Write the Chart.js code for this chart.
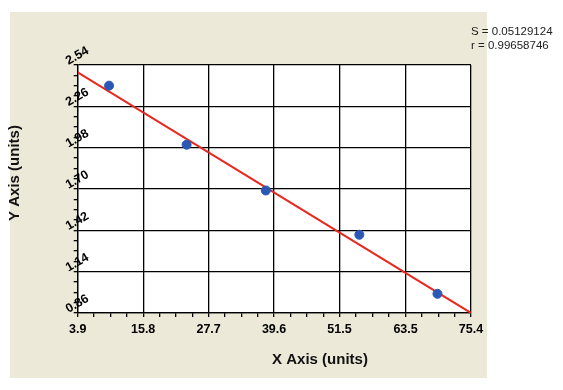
<!DOCTYPE html>
<html>
<head>
<meta charset="utf-8">
<script src="https://cdn.jsdelivr.net/npm/chart.js@4"></script>
<style>
  html,body{margin:0;padding:0;background:#fff;}
  #wrap{width:563px;height:390px;position:relative;}
</style>
</head>
<body>
<div id="wrap"><canvas id="chart" width="563" height="390"></canvas></div>
<script>
// data
const xTicks = [3.9, 15.8, 27.7, 39.6, 51.5, 63.5, 75.4];
const yTicks = [0.86, 1.14, 1.42, 1.70, 1.98, 2.26, 2.54];
const xData = [9.6, 23.7, 38.1, 55.1, 69.3];
const yData = [2.40, 2.00, 1.69, 1.39, 0.99];
const fitX = [3.9, 75.4];
const fitY = [2.49, 0.86];
const statLines = ["S = 0.05129124", "r = 0.99658746"];
const xTitle = "X Axis (units)";
const yTitle = "Y Axis (units)";

// major ticks plus 3 minor ticks between each pair
function withMinor(majors){
  const out = [];
  majors.forEach((v,i)=>{
    out.push({value:v, minor:false});
    if(i < majors.length-1){
      for(let k=1;k<4;k++) out.push({value: v + (majors[i+1]-v)*k/4, minor:true});
    }
  });
  return out;
}

const bgPlugin = {
  id:'bg',
  beforeDraw(chart){
    const {ctx, chartArea:a} = chart;
    ctx.save();
    ctx.fillStyle = '#fff';
    ctx.fillRect(0,0,chart.width,chart.height);
    ctx.fillStyle = '#ECE9D8';
    ctx.fillRect(10,12,477,366);
    ctx.fillStyle = '#fff';
    ctx.fillRect(a.left,a.top,a.right-a.left,a.bottom-a.top);
    ctx.restore();
  },
  afterDraw(chart){
    const ctx = chart.ctx;
    ctx.save();
    ctx.fillStyle = '#111';
    ctx.font = 'bold 15px "Liberation Sans", Arial, sans-serif';
    ctx.textAlign = 'center';
    ctx.textBaseline = 'middle';
    ctx.fillText(xTitle, 320, 360);
    ctx.translate(15, 173);
    ctx.rotate(-Math.PI/2);
    ctx.fillText(yTitle, 0, 0);
    ctx.restore();
    ctx.save();
    ctx.fillStyle = '#222';
    ctx.font = '11.5px "Liberation Sans", Arial, sans-serif';
    ctx.textAlign = 'left';
    ctx.textBaseline = 'middle';
    statLines.forEach((t,i)=>ctx.fillText(t, 471, 32 + i*14));
    ctx.restore();
  }
};

const gridColor = c => (c.tick && c.tick.minor) ? 'rgba(0,0,0,0)' : '#000';
const tickFont = {family:'"Liberation Sans", Arial, sans-serif', weight:'bold', size:12.5};

new Chart(document.getElementById('chart'), {
  type:'scatter',
  data:{
    datasets:[
      {
        label:'fit',
        data: fitX.map((x,i)=>({x, y: fitY[i]})),
        showLine:true,
        borderColor:'#E8281E',
        borderWidth:2,
        pointRadius:0,
        order:2
      },
      {
        label:'data',
        data: xData.map((x,i)=>({x, y: yData[i]})),
        backgroundColor:'#2C58B5',
        borderColor:'#2C58B5',
        pointRadius:4.5,
        order:1
      }
    ]
  },
  options:{
    responsive:false,
    animation:false,
    layout:{padding:{left:10, top:65, right:92, bottom:0}},
    plugins:{legend:{display:false}, tooltip:{enabled:false}},
    scales:{
      x:{
        type:'linear',
        min: xTicks[0], max: xTicks[xTicks.length-1],
        afterBuildTicks: s => { s.ticks = withMinor(xTicks); },
        afterFit: s => { s.height = 77; },
        grid:{color:gridColor, tickColor:'#000', tickLength:4, lineWidth:1.3},
        border:{color:'#000', width:1.3},
        ticks:{
          autoSkip:false, maxRotation:0, padding:5, color:'#000', font:tickFont,
          callback:(v,i,t)=> t[i].minor ? '' : String(v)
        }
      },
      y:{
        type:'linear',
        min: yTicks[0], max: yTicks[yTicks.length-1],
        afterBuildTicks: s => { s.ticks = withMinor(yTicks); },
        afterFit: s => { s.width = 67.7; },
        grid:{color:gridColor, tickColor:'#000', tickLength:4, lineWidth:1.3},
        border:{color:'#000', width:1.3},
        ticks:{
          autoSkip:false, mirror:true, minRotation:30, maxRotation:30, padding:-11, labelOffset:-3, color:'#000', font:tickFont,
          callback:(v,i,t)=> t[i].minor ? '' : v.toFixed(2)
        }
      }
    }
  },
  plugins:[bgPlugin]
});
</script>
</body>
</html>
